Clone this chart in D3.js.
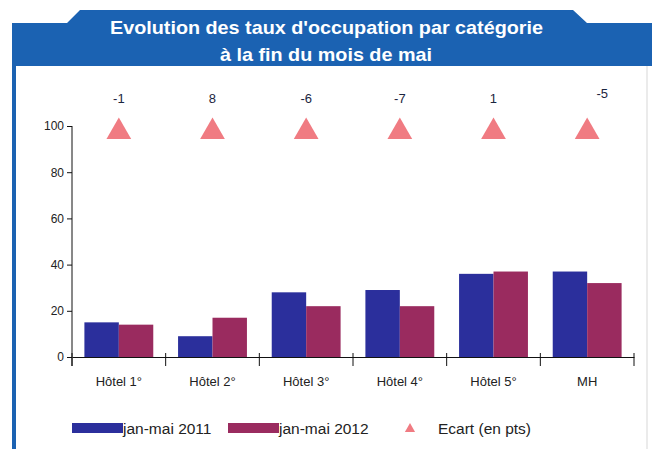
<!DOCTYPE html>
<html>
<head>
<meta charset="utf-8">
<script src="https://cdn.jsdelivr.net/npm/d3@7"></script>
<style>
  body { margin: 0; background: #fff; }
  svg { display: block; font-family: "Liberation Sans", Arial, sans-serif; }
  .axisGroup path, .axisGroup line { stroke: #111; }
  .axisGroup text { fill: #222; }
</style>
</head>
<body>
<div id="chart"></div>
<script>
// données
const categories = ["Hôtel 1°", "Hôtel 2°", "Hôtel 3°", "Hôtel 4°", "Hôtel 5°", "MH"]
const series = ["jan-mai 2011", "jan-mai 2012"]
const values2011 = [15, 9, 28, 29, 36, 37]
const values2012 = [14, 17, 22, 22, 37, 32]
const ecart = [-1, 8, -6, -7, 1, -5]
const yTicks = [0, 20, 40, 60, 80, 100]
const markerLevel = 97.5   // niveau où Excel pose les triangles

const colors = ["#2b2f9c", "#9a2b5f"]
const triColor = "#f07b82"
const headerBlue = "#1b62b2"

const width = 652
const height = 449
const margin = { top: 126, bottom: 92, left: 72, right: 10 }

const svg = d3.select("div#chart").append("svg").attr("width", width).attr("height", height)

// cadre + bandeau du titre
svg.append("rect").attr("x", 12).attr("y", 40).attr("width", 4).attr("height", height - 40).attr("fill", headerBlue)
svg.append("line").attr("x1", 647).attr("x2", 647).attr("y1", 66).attr("y2", height)
    .attr("stroke", "#e4e4e4").attr("stroke-width", 1.5)
svg.append("path")
    .attr("d", "M12,23 L67,23 L80,10 L573,10 L587,23 L652,23 L652,66 L12,66 Z")
    .attr("fill", headerBlue)
const title = svg.append("g").attr("fill", "#fff").attr("font-weight", "bold").attr("font-size", 19)
title.append("text").attr("x", 110).attr("y", 34)
    .attr("textLength", 433).attr("lengthAdjust", "spacingAndGlyphs")
    .text("Evolution des taux d'occupation par catégorie")
title.append("text").attr("x", 220).attr("y", 61)
    .attr("textLength", 212).attr("lengthAdjust", "spacingAndGlyphs")
    .text("à la fin du mois de mai")

const plotW = width - margin.left - margin.right - 8
const plotH = height - margin.top - margin.bottom

const elementGroup = svg.append("g").attr("class", "elementGroup").attr("transform", `translate(${margin.left}, ${margin.top})`)
const axisGroup = svg.append("g").attr("class", "axisGroup")
const xAxisGroup = axisGroup.append("g").attr("class", "xAxisGroup").attr("transform", `translate(${margin.left}, ${margin.top + plotH})`)
const yAxisGroup = axisGroup.append("g").attr("class", "yAxisGroup").attr("transform", `translate(${margin.left}, ${margin.top})`)

const x = d3.scaleBand().domain(categories).range([0, plotW]).paddingInner(0).paddingOuter(0)
const xSub = d3.scaleBand().domain(series).range([0, x.bandwidth()]).paddingInner(0).paddingOuter(0.36)
const y = d3.scaleLinear().domain([0, 100]).range([plotH, 0])

const xAxis = d3.axisBottom(x).tickSize(0).tickPadding(18)
const yAxis = d3.axisLeft(y).tickValues(yTicks).tickSize(5).tickPadding(3)

yAxisGroup.call(yAxis)
yAxisGroup.select(".domain").attr("d", `M0,0V${plotH + 9}`)
yAxisGroup.selectAll(".tick text").attr("font-size", 12)
xAxisGroup.call(xAxis)
xAxisGroup.selectAll(".tick text").attr("dy", "0.32em").attr("y", 25).attr("font-size", 13)

// graduations aux limites des catégories
const bounds = categories.map(c => x(c)).concat([x(categories[categories.length - 1]) + x.bandwidth()])
xAxisGroup.selectAll("line.bound").data(bounds).join("line").attr("class", "bound")
    .attr("x1", d => d).attr("x2", d => d).attr("y1", -4).attr("y2", 9)

// barres
const rows = categories.map((c, i) => ({ cat: c, vals: [values2011[i], values2012[i]], ecart: ecart[i] }))

const groups = elementGroup.selectAll("g.cat").data(rows).join("g").attr("class", "cat")
    .attr("transform", d => `translate(${x(d.cat)}, 0)`)

groups.selectAll("rect").data(d => d.vals.map((v, k) => ({ s: series[k], v: v, k: k }))).join("rect")
    .attr("x", d => xSub(d.s))
    .attr("width", xSub.bandwidth())
    .attr("y", d => y(d.v))
    .attr("height", d => plotH - y(d.v))
    .attr("fill", d => colors[d.k])

// triangles d'écart
const tri = d3.symbol(d3.symbolTriangle).size(265)
groups.append("path").attr("d", tri)
    .attr("transform", `translate(${x.bandwidth() / 2}, ${y(markerLevel)})`)
    .attr("fill", triColor)

groups.append("text")
    .attr("x", (d, i) => x.bandwidth() / 2 + (i === 5 ? 15 : 0))
    .attr("y", (d, i) => y(markerLevel) - (i === 5 ? 34 : 29))
    .attr("text-anchor", "middle")
    .attr("font-size", 13)
    .attr("fill", "#1b2540")
    .text(d => d.ecart)

// légende
const legend = svg.append("g").attr("transform", "translate(0, 428)")
const legendItems = [
    { label: series[0], color: colors[0], x: 72, type: "rect" },
    { label: series[1], color: colors[1], x: 228, type: "rect" },
    { label: "Ecart (en pts)", color: triColor, x: 405, type: "tri" }
]
legendItems.forEach(it => {
    if (it.type === "rect") {
        legend.append("rect").attr("x", it.x).attr("y", -5).attr("width", 51).attr("height", 10).attr("fill", it.color)
        legend.append("text").attr("x", it.x + 51).attr("y", 5.5).attr("font-size", 15.5).attr("fill", "#222").text(it.label)
    } else {
        legend.append("path").attr("d", d3.symbol(d3.symbolTriangle).size(45))
            .attr("transform", `translate(${it.x + 5}, 1)`).attr("fill", it.color)
        legend.append("text").attr("x", it.x + 33).attr("y", 5.5).attr("font-size", 15.5).attr("fill", "#222").text(it.label)
    }
})
</script>
</body>
</html>
